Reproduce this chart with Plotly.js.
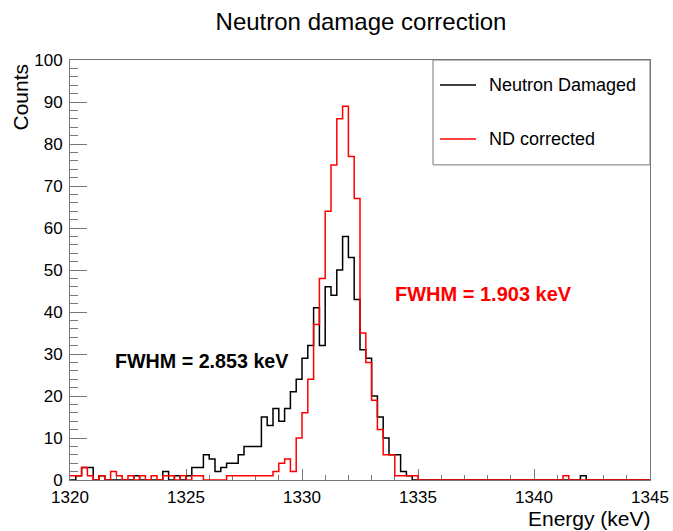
<!DOCTYPE html>
<html>
<head>
<meta charset="utf-8">
<script src="https://cdn.plot.ly/plotly-3.0.1.min.js"></script>
<style>
html,body{margin:0;padding:0;background:#fff;}
#chart{width:673px;height:531px;}
</style>
</head>
<body>
<div id="chart"></div>
<script>
// Histogram binning: 100 bins from 1320 to 1345 keV
var xMin = 1320;
var binWidth = 0.25;

// Neutron Damaged (black) bin contents
var neutronDamaged = [
  0,1,3,3,0,1,0,0,0,0,
  0,1,0,0,0,0,2,0,1,0,
  1,3,3,6,5,2,3,4,4,6,
  8,8,8,15,13,17,14,17,21,24,
  29,32,41,32,46,44,50,58,53,43,
  31,29,20,15,10,6,6,2,1,0,
  0,0,0,0,0,0,0,0,0,0,
  0,0,0,0,0,0,0,0,0,0,
  0,0,0,0,0,0,0,0,1,0,
  0,0,0,0,0,0,0,0,0,0
];

// ND corrected (red) bin contents
var ndCorrected = [
  1,1,3,1,0,1,0,2,1,0,
  1,0,1,0,1,0,1,1,0,1,
  0,1,1,0,0,0,0,1,1,1,
  1,1,1,1,1,2,4,5,2,10,
  16,24,37,48,64,75,86,89,77,67,
  35,28,19,12,6,6,1,1,1,1,
  0,0,0,0,0,0,0,0,0,0,
  0,0,0,0,0,0,0,0,0,0,
  0,0,0,0,0,1,0,0,0,0,
  0,0,0,0,0,0,0,0,0,0
];

var seriesNames = ["Neutron Damaged", "ND corrected"];
var fwhmLabels = ["FWHM = 2.853 keV", "FWHM = 1.903 keV"];

function stepXY(vals){
  var xs = [], ys = [];
  for (var i = 0; i <= vals.length; i++){
    xs.push(xMin + binWidth * i);
    ys.push(i < vals.length ? vals[i] : vals[vals.length-1]);
  }
  return {x: xs, y: ys};
}

var s1 = stepXY(neutronDamaged);
var s2 = stepXY(ndCorrected);
var FONT = "Liberation Sans, Arial, Helvetica, sans-serif";

var traces = [
  {x: s1.x, y: s1.y, type: 'scatter', mode: 'lines', name: seriesNames[0],
   line: {shape: 'hv', color: '#000000', width: 1.5}, showlegend: false, hoverinfo: 'skip'},
  {x: s2.x, y: s2.y, type: 'scatter', mode: 'lines', name: seriesNames[1],
   line: {shape: 'hv', color: '#ff0000', width: 1.5}, showlegend: false, hoverinfo: 'skip'}
];

function px2x(p){ return (p - 70) / 580; }
function py2y(p){ return (480.5 - p) / 420.5; }

var layout = {
  width: 673, height: 531,
  margin: {l: 70, r: 23, t: 60, b: 50.5, pad: 0},
  paper_bgcolor: '#ffffff', plot_bgcolor: '#ffffff',
  showlegend: false,
  title: {text: 'Neutron damage correction', x: 361/673, xanchor: 'center', y: 1 - 22/531, yanchor: 'middle',
          font: {family: FONT, size: 24, color: '#000'}},
  xaxis: {
    range: [1320, 1345], tickmode: 'linear', tick0: 1320, dtick: 5,
    ticks: 'inside', ticklen: 11, tickwidth: 1, tickcolor: '#777',
    minor: {dtick: 1, ticks: 'inside', ticklen: 5, tickcolor: '#777', tickwidth: 1, showgrid: false},
    showline: true, linecolor: '#777', linewidth: 1, mirror: true,
    showgrid: false, zeroline: false, layer: 'below traces',
    ticklabelstandoff: 2,
    tickfont: {family: FONT, size: 17, color: '#000'}
  },
  yaxis: {
    range: [0, 100], tickmode: 'linear', tick0: 0, dtick: 10,
    ticks: 'inside', ticklen: 17, tickwidth: 1, tickcolor: '#777',
    minor: {dtick: 2, ticks: 'inside', ticklen: 8, tickcolor: '#777', tickwidth: 1, showgrid: false},
    showline: true, linecolor: '#777', linewidth: 1, mirror: true,
    showgrid: false, zeroline: false, layer: 'below traces',
    ticklabelstandoff: 3,
    tickfont: {family: FONT, size: 17, color: '#000'}
  },
  shapes: [
    {type: 'rect', xref: 'paper', yref: 'paper', x0: px2x(433), x1: 1, y0: py2y(165), y1: 1,
     line: {color: '#777', width: 1}, fillcolor: '#ffffff', layer: 'above'},
    {type: 'line', xref: 'paper', yref: 'paper', x0: px2x(440), x1: px2x(476), y0: py2y(85), y1: py2y(85),
     line: {color: '#000000', width: 1.5}},
    {type: 'line', xref: 'paper', yref: 'paper', x0: px2x(440), x1: px2x(476), y0: py2y(139), y1: py2y(139),
     line: {color: '#ff0000', width: 1.5}}
  ],
  annotations: [
    {text: seriesNames[0], xref: 'paper', yref: 'paper', x: px2x(487), y: py2y(85), xanchor: 'left', yanchor: 'middle',
     showarrow: false, font: {family: FONT, size: 18, color: '#000'}},
    {text: seriesNames[1], xref: 'paper', yref: 'paper', x: px2x(487), y: py2y(139), xanchor: 'left', yanchor: 'middle',
     showarrow: false, font: {family: FONT, size: 18, color: '#000'}},
    {text: '<b>' + fwhmLabels[0] + '</b>', xref: 'paper', yref: 'paper', x: px2x(113), y: py2y(361), xanchor: 'left', yanchor: 'middle',
     showarrow: false, font: {family: FONT, size: 19.7, color: '#000'}},
    {text: '<b>' + fwhmLabels[1] + '</b>', xref: 'paper', yref: 'paper', x: px2x(393), y: py2y(294.5), xanchor: 'left', yanchor: 'middle',
     showarrow: false, font: {family: FONT, size: 20, color: '#ff0000'}},
    {text: 'Energy (keV)', xref: 'paper', yref: 'paper', x: 1, y: py2y(519), xanchor: 'right', yanchor: 'middle', xshift: 3,
     showarrow: false, font: {family: FONT, size: 21, color: '#000'}},
    {text: 'Counts', xref: 'paper', yref: 'paper', x: px2x(20), y: 1 - 2/420.5, xanchor: 'center', yanchor: 'top',
     textangle: -90, showarrow: false, font: {family: FONT, size: 21, color: '#000'}}
  ]
};

Plotly.newPlot('chart', traces, layout, {staticPlot: true, displayModeBar: false});
</script>
</body>
</html>
